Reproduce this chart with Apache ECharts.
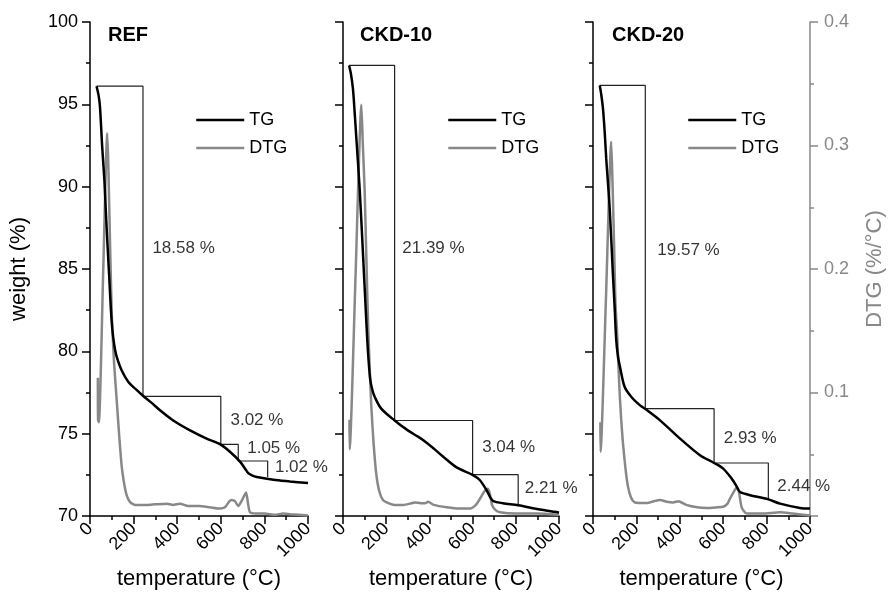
<!DOCTYPE html>
<html lang="en">
<head>
<meta charset="UTF-8">
<title>TG / DTG</title>
<script src="https://cdn.jsdelivr.net/npm/echarts@6/dist/echarts.min.js"></script>
<style>
    html, body { margin: 0; padding: 0; background: #fff; }
    #main { width: 888px; height: 598px; }
</style>
</head>
<body>
<div id="main"></div>
<script>
// panel titles
var panels = ['REF', 'CKD-10', 'CKD-20'];

// TG curves: [temperature (°C), weight (%)]
var refTG = [[30,96.1],[40,95.5],[46,94.8],[56,92.4],[66,90.4],[73,88.4],[81,86.3],[89,84.3],[96,82.5],[102,81.4],[108,80.7],[115,80.1],[124,79.6],[145,78.85],[176,78.14],[210,77.7],[243,77.3],[280,76.9],[321,76.42],[382,75.8],[459,75.2],[535,74.7],[598,74.35],[642,73.9],[688,73.3],[710,72.9],[726,72.6],[745,72.45],[765,72.37],[841,72.2],[917,72.1],[1000,72.0]];
var ckd10TG = [[28,97.36],[36,96.9],[46,95.95],[54,94.5],[62,92.9],[77,89.9],[93,85.8],[108,81.8],[116,79.9],[126,78.3],[136,77.65],[147,77.23],[177,76.52],[239,75.8],[300,75.2],[347,74.82],[372,74.6],[420,74.1],[464,73.6],[526,72.95],[600,72.5],[634,72.17],[665,71.56],[681,71.15],[696,70.91],[740,70.78],[811,70.65],[912,70.39],[989,70.24],[1000,70.2]];
var ckd20TG = [[31,96.15],[38,95.6],[46,94.74],[54,93.3],[61,91.7],[77,88.66],[92,84.6],[100,82.6],[107,80.7],[115,79.7],[126,78.95],[146,77.83],[177,77.23],[217,76.72],[241,76.5],[309,75.81],[401,74.7],[493,73.69],[558,73.22],[600,72.88],[639,72.27],[660,71.85],[677,71.46],[700,71.35],[724,71.26],[808,71.01],[862,70.75],[954,70.49],[1000,70.45]];

// DTG curves: [temperature (°C), DTG (%/°C)]
var refDTG = [[36,0.112],[37,0.078],[41,0.076],[60,0.194],[79,0.31],[84,0.285],[92,0.22],[100,0.163],[110,0.125],[122,0.095],[134,0.065],[145,0.041],[155,0.028],[168,0.017],[185,0.011],[206,0.009],[260,0.009],[300,0.0095],[352,0.01],[380,0.009],[413,0.01],[450,0.008],[500,0.008],[550,0.007],[596,0.006],[619,0.007],[640,0.012],[650,0.013],[665,0.012],[680,0.008],[695,0.012],[716,0.019],[725,0.01],[734,0.003],[760,0.002],[800,0.002],[850,0.001],[886,0.002],[920,0.0015],[1000,0.0005]];
var ckd10DTG = [[30,0.078],[31,0.054],[58,0.194],[85,0.333],[92,0.3],[100,0.265],[108,0.21],[116,0.156],[124,0.118],[131,0.089],[142,0.058],[154,0.034],[168,0.02],[185,0.013],[210,0.0105],[239,0.009],[280,0.009],[310,0.01],[333,0.011],[360,0.0103],[380,0.0103],[394,0.0115],[420,0.009],[480,0.007],[540,0.006],[588,0.006],[615,0.009],[634,0.014],[655,0.02],[670,0.022],[680,0.018],[690,0.009],[705,0.005],[727,0.003],[800,0.002],[900,0.002],[1000,0.001]];
var ckd20DTG = [[34,0.076],[35,0.052],[60,0.178],[84,0.303],[89,0.276],[97,0.221],[103,0.175],[107,0.16],[110,0.152],[113,0.14],[117,0.122],[123,0.099],[130,0.078],[138,0.059],[150,0.038],[161,0.024],[175,0.015],[192,0.011],[217,0.0105],[250,0.0105],[280,0.012],[309,0.013],[340,0.0115],[370,0.011],[393,0.012],[430,0.009],[480,0.007],[524,0.0065],[570,0.007],[600,0.0075],[620,0.01],[631,0.014],[650,0.02],[662,0.023],[672,0.02],[685,0.007],[708,0.002],[780,0.002],[862,0.003],[920,0.002],[1000,0.0005]];

// mass-loss steps (temperature, weight at each step)
var refStepT = [30, 243, 600, 680, 815];
var refStepW = [96.1, 77.27, 74.35, 73.34, 72.37];
var ckd10StepT = [28, 239, 600, 811];
var ckd10StepW = [97.36, 75.8, 72.51, 70.65];
var ckd20StepT = [31, 241, 558, 808];
var ckd20StepW = [96.15, 76.52, 73.22, 71.01];

// mass-loss texts and where they sit (temperature, weight)
var refLabels = ['18.58 %', '3.02 %', '1.05 %', '1.02 %'];
var refLabelT = [284, 642, 719, 846];
var refLabelW = [86.25, 75.81, 74.09, 72.94];
var ckd10Labels = ['21.39 %', '3.04 %', '2.21 %'];
var ckd10LabelT = [272, 642, 839];
var ckd10LabelW = [86.25, 74.19, 71.66];
var ckd20Labels = ['19.57 %', '2.93 %', '2.44 %'];
var ckd20LabelT = [294, 600, 847];
var ckd20LabelW = [86.13, 74.7, 71.8];

var FONT = 'Arial, "Liberation Sans", sans-serif';
var GRAY = '#888888';

var sets = [
    {tg: refTG, dtg: refDTG, st: refStepT, sw: refStepW, lb: refLabels, lt: refLabelT, lw: refLabelW},
    {tg: ckd10TG, dtg: ckd10DTG, st: ckd10StepT, sw: ckd10StepW, lb: ckd10Labels, lt: ckd10LabelT, lw: ckd10LabelW},
    {tg: ckd20TG, dtg: ckd20DTG, st: ckd20StepT, sw: ckd20StepW, lb: ckd20Labels, lt: ckd20LabelT, lw: ckd20LabelW}
];

var gridLeft = [90, 343, 593];
var gridWidth = [218, 216, 217];
var legendLeft = [195, 447, 687];
var titleLeft = [108, 360, 612];

var grids = [], xAxes = [], yAxes = [], series = [], legends = [], titles = [];

for (var i = 0; i < 3; i++) {
    grids.push({left: gridLeft[i], top: 22, width: gridWidth[i], height: 494});

    xAxes.push({
        type: 'value', gridIndex: i, min: 0, max: 1000, interval: 200,
        name: 'temperature (°C)', nameLocation: 'middle', nameGap: 48,
        nameTextStyle: {fontSize: 22, color: '#000', fontFamily: FONT},
        axisLine: {lineStyle: {color: '#000', width: 1.5}},
        axisTick: {length: 8, lineStyle: {color: '#000', width: 1.5}},
        minorTick: {show: true, splitNumber: 2, length: 4, lineStyle: {color: '#000', width: 1.5}},
        splitLine: {show: false},
        axisLabel: {
            rotate: 45, fontSize: 18, color: '#000', margin: 10, fontFamily: FONT,
            formatter: function (v) { return String(v); }
        }
    });

    // weight axis
    yAxes.push({
        type: 'value', gridIndex: i, min: 70, max: 100, interval: 5, position: 'left',
        name: i === 0 ? 'weight (%)' : '', nameLocation: 'middle', nameGap: 60,
        nameTextStyle: {fontSize: 22, color: '#000', fontFamily: FONT},
        axisLine: {show: true, lineStyle: {color: '#000', width: 1.5}},
        axisTick: {show: true, length: 8, lineStyle: {color: '#000', width: 1.5}},
        minorTick: {show: true, splitNumber: 2, length: 4, lineStyle: {color: '#000', width: 1.5}},
        splitLine: {show: false},
        axisLabel: {show: i === 0, fontSize: 18, color: '#000', margin: 12, fontFamily: FONT}
    });

    // DTG axis (only drawn on the last panel)
    yAxes.push({
        type: 'value', gridIndex: i, min: 0, max: 0.4, interval: 0.1, position: 'right',
        show: i === 2,
        name: 'DTG (%/°C)', nameLocation: 'middle', nameGap: 54, nameRotate: 90,
        nameTextStyle: {fontSize: 22, color: GRAY, fontFamily: FONT},
        axisLine: {show: true, lineStyle: {color: GRAY, width: 1.5}},
        axisTick: {show: true, length: 8, lineStyle: {color: GRAY, width: 1.5}},
        minorTick: {show: true, splitNumber: 2, length: 4, lineStyle: {color: GRAY, width: 1.5}},
        splitLine: {show: false},
        axisLabel: {
            fontSize: 18, color: GRAY, margin: 14, fontFamily: FONT,
            formatter: function (v) { return v === 0 ? '' : v.toFixed(1); }
        }
    });

    var s = sets[i];

    series.push({
        name: 'DTG', type: 'line', xAxisIndex: i, yAxisIndex: 2 * i + 1,
        data: s.dtg, symbol: 'none', smooth: 0.2,
        lineStyle: {color: GRAY, width: 2.5}, itemStyle: {color: GRAY}, z: 3
    });
    series.push({
        name: 'TG', type: 'line', xAxisIndex: i, yAxisIndex: 2 * i,
        data: s.tg, symbol: 'none', smooth: 0.3,
        lineStyle: {color: '#000', width: 2.5}, itemStyle: {color: '#000'}, z: 4
    });
    series.push({
        name: 'steps' + i, type: 'line', xAxisIndex: i, yAxisIndex: 2 * i, step: 'end',
        data: s.st.map(function (t, k) { return [t, s.sw[k]]; }),
        symbol: 'none', silent: true,
        lineStyle: {color: '#222', width: 1.2}, z: 2
    });
    series.push({
        name: 'labels' + i, type: 'scatter', xAxisIndex: i, yAxisIndex: 2 * i,
        data: s.lb.map(function (txt, k) { return {name: txt, value: [s.lt[k], s.lw[k]]}; }),
        symbolSize: 1, itemStyle: {color: 'transparent'}, silent: true,
        label: {
            show: true, position: 'right', distance: 0, formatter: '{b}',
            fontSize: 17, color: '#000', fontFamily: FONT
        },
        z: 5
    });

    legends.push({
        data: ['TG', 'DTG'], orient: 'vertical', left: legendLeft[i], top: 111,
        itemWidth: 48, itemHeight: 18, itemGap: 10, padding: 0, selectedMode: false,
        itemStyle: {opacity: 0},
        lineStyle: {width: 2.5},
        textStyle: {fontSize: 18, color: '#000', fontFamily: FONT}
    });

    titles.push({
        text: panels[i], left: titleLeft[i], top: 25, padding: 0,
        textStyle: {fontSize: 20, fontWeight: 'bold', color: '#000', fontFamily: FONT}
    });
}

var myChart = echarts.init(document.getElementById('main'));
myChart.setOption({
    animation: false,
    backgroundColor: '#fff',
    title: titles,
    legend: legends,
    grid: grids,
    xAxis: xAxes,
    yAxis: yAxes,
    series: series
});
</script>
</body>
</html>
